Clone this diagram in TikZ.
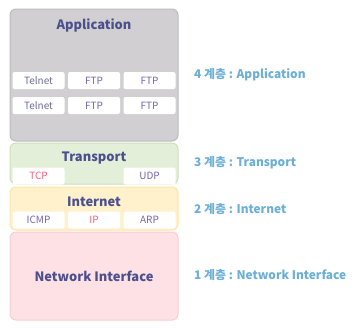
\documentclass[tikz,border=0pt]{standalone}
\usepackage{fontspec}
\setmainfont{Noto Sans CJK KR}
\usetikzlibrary{positioning}
\definecolor{ttl}{HTML}{4B4F8C}
\definecolor{appfill}{HTML}{D1CFD2}
\definecolor{appline}{HTML}{BDBBBE}
\definecolor{trfill}{HTML}{E3EFD9}
\definecolor{trline}{HTML}{CCE0BD}
\definecolor{infill}{HTML}{FFF1CC}
\definecolor{inline}{HTML}{FBE6A6}
\definecolor{nifill}{HTML}{FDE1E5}
\definecolor{niline}{HTML}{F9CDD3}
\definecolor{lvl}{HTML}{6BAED6}
\definecolor{ptxt}{HTML}{F2637E}
\definecolor{vtxt}{HTML}{7466B0}
\definecolor{gtxt}{HTML}{6F6F99}
\tikzset{
  layer/.style  = {draw, line width=1pt, rounded corners=6pt, minimum width=168pt,
                   inner sep=0pt},
  ltitle/.style = {font=\fontsize{12.9}{15}\selectfont\bfseries, text=ttl, inner sep=0pt},
  proto/.style  = {fill=white, rounded corners=2pt, minimum width=52pt,
                   minimum height=17pt, inner sep=0pt, font=\fontsize{10}{12}\selectfont},
  lvltxt/.style = {font=\fontsize{11.9}{14}\selectfont\bfseries, text=lvl, anchor=west,
                   inner sep=0pt},
}
\begin{document}
\begin{tikzpicture}[x=1pt,y=-1pt]
  \useasboundingbox (0,0) rectangle (361,327);
  % layers
  \node[layer, draw=appline, fill=appfill, minimum height=132pt] (app) at (94,75) {};
  \node[layer, draw=trline, fill=trfill, minimum height=41pt] (trans) at (94,163.5) {};
  \node[layer, draw=inline, fill=infill, minimum height=43pt] (inet) at (94,208.5) {};
  \node[layer, draw=niline, fill=nifill, minimum height=88pt] (nif) at (94,276) {};
  % titles
  \node[ltitle] (appt) at (94,25) {Application};
  \node[ltitle] (transt) at (94,158) {Transport};
  \node[ltitle] (inett) at (94,202) {Internet};
  \node[ltitle] (nift) at (94,276) {Network Interface};
  % application protocols
  \foreach \r/\y in {1/80.5,2/105.5} {
    \node[proto, text=gtxt] (tel\r) at (38.5,\y) {Telnet};
    \node[proto, text=vtxt] (ftpa\r) at (94,\y) {FTP};
    \node[proto, text=vtxt] (ftpb\r) at (149.5,\y) {FTP};
  }
  % transport protocols
  \node[proto, text=ptxt] (tcp) at (38.5,176) {TCP};
  \node[proto, text=vtxt] (udp) at (149.5,176) {UDP};
  % internet protocols
  \node[proto, text=vtxt] (icmp) at (38.5,220) {ICMP};
  \node[proto, text=ptxt] (ip) at (94,220) {IP};
  \node[proto, text=vtxt] (arp) at (149.5,220) {ARP};
  % layer numbers
  \node[lvltxt] (l4) at (194,75) {4 계층 : Application};
  \node[lvltxt] (l3) at (194,163) {3 계층 : Transport};
  \node[lvltxt] (l2) at (194,209) {2 계층 : Internet};
  \node[lvltxt] (l1) at (194,275) {1 계층 : Network Interface};
\end{tikzpicture}
\end{document}
